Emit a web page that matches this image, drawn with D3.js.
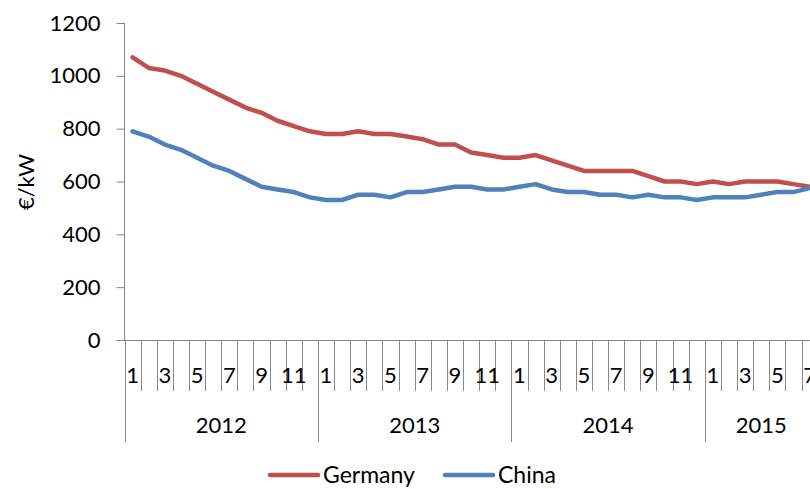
<!DOCTYPE html>
<html>
<head>
<meta charset="utf-8">
<script src="https://cdn.jsdelivr.net/npm/d3@7"></script>
<style>
  body { margin: 0; background: #fff; }
  text { font-family: Lato, "Open Sans", sans-serif; fill: #000; }
</style>
</head>
<body>
<svg id="chart" width="810" height="489"></svg>
<script>
// monthly module prices, Jan 2012 - Jul 2015
var years = ['2012', '2013', '2014', '2015'];
var monthsPerYear = [12, 12, 12, 7];
var yTicks = [0, 200, 400, 600, 800, 1000, 1200];

var germany = [1070, 1030, 1020, 1000, 970, 940, 910, 880, 860, 830, 810, 790,
               780, 780, 790, 780, 780, 770, 760, 740, 740, 710, 700, 690,
               690, 700, 680, 660, 640, 640, 640, 640, 620, 600, 600, 590,
               600, 590, 600, 600, 600, 590, 580];
var china = [790, 770, 740, 720, 690, 660, 640, 610, 580, 570, 560, 540,
             530, 530, 550, 550, 540, 560, 560, 570, 580, 580, 570, 570,
             580, 590, 570, 560, 560, 550, 550, 540, 550, 540, 540, 530,
             540, 540, 540, 550, 560, 560, 575];

// build category list (year, month)
var cats = [];
years.forEach(function(y, yi) {
  for (var m = 1; m <= monthsPerYear[yi]; m++) cats.push({ year: y, month: m });
});

var svg = d3.select('#chart');
var plotLeft = 124.5, plotTop = 23, plotBottom = 340;
var step = 16.12;

var x = d3.scaleBand()
    .domain(d3.range(cats.length))
    .range([plotLeft, plotLeft + step * cats.length])
    .padding(0);
var y = d3.scaleLinear().domain([0, 1200]).range([plotBottom, plotTop]);

var axisColor = '#868686';

// y axis
var yAxis = svg.append('g')
    .attr('transform', 'translate(' + plotLeft + ',0)')
    .call(d3.axisLeft(y).tickValues(yTicks).tickSize(8).tickPadding(16).tickFormat(d3.format('d')));
yAxis.select('.domain').attr('stroke', axisColor).attr('d', 'M0,' + plotTop + 'V' + plotBottom);
yAxis.selectAll('.tick line').attr('stroke', axisColor);
yAxis.selectAll('.tick text').style('font-size', '22px').style('font-family', 'Lato, sans-serif').attr('fill', '#000');

// x axis baseline
svg.append('line')
    .attr('x1', plotLeft - 8).attr('x2', 810)
    .attr('y1', plotBottom + 0.5).attr('y2', plotBottom + 0.5)
    .attr('stroke', axisColor);

// category boundaries
var bounds = d3.range(cats.length + 1);
svg.selectAll('.sep')
  .data(bounds)
  .enter().append('line')
    .attr('class', 'sep')
    .attr('x1', function(i) { return Math.round(plotLeft + i * step) + 0.5; })
    .attr('x2', function(i) { return Math.round(plotLeft + i * step) + 0.5; })
    .attr('y1', plotBottom)
    .attr('y2', function(i) {
      var isYear = i === cats.length || (i < cats.length && cats[i].month === 1);
      return isYear ? 442 : 391;
    })
    .attr('stroke', axisColor);

// month labels (odd months)
svg.selectAll('.mlab')
  .data(cats.map(function(c, i) { return { c: c, i: i }; }).filter(function(d) { return d.c.month % 2 === 1; }))
  .enter().append('text')
    .attr('class', 'mlab')
    .attr('x', function(d) { return x(d.i) + x.bandwidth() / 2; })
    .attr('y', 375)
    .attr('dy', '0.35em')
    .attr('text-anchor', 'middle')
    .style('font-size', '22px')
    .text(function(d) { return d.c.month; });

// year labels
var start = 0;
years.forEach(function(yr, yi) {
  var n = monthsPerYear[yi];
  var cx = x(start) + n * step / 2;
  svg.append('text')
      .attr('x', cx)
      .attr('y', 425)
      .attr('dy', '0.35em')
      .attr('text-anchor', 'middle')
      .style('font-size', '22px')
      .text(yr);
  start += n;
});

// y label
svg.append('text')
    .attr('transform', 'translate(26,182) rotate(-90)')
    .attr('text-anchor', 'middle')
    .attr('dy', '0.35em')
    .style('font-size', '22px')
    .text('€/kW');

// lines
var line = d3.line()
    .x(function(d, i) { return x(i) + x.bandwidth() / 2; })
    .y(function(d) { return y(d); });

var series = [
  { name: 'Germany', values: germany, color: '#C0504D' },
  { name: 'China', values: china, color: '#4F81BD' }
];

svg.selectAll('.series')
  .data(series)
  .enter().append('path')
    .attr('class', 'series')
    .attr('d', function(d) { return line(d.values); })
    .attr('fill', 'none')
    .attr('stroke', function(d) { return d.color; })
    .attr('stroke-width', 4.5)
    .attr('stroke-linejoin', 'round')
    .attr('stroke-linecap', 'round');

// legend
var legendX = [270, 445];
var leg = svg.selectAll('.leg')
  .data(series)
  .enter().append('g')
    .attr('class', 'leg')
    .attr('transform', function(d, i) { return 'translate(' + legendX[i] + ',475)'; });
leg.append('line')
    .attr('x1', 0).attr('x2', 48)
    .attr('stroke', function(d) { return d.color; })
    .attr('stroke-width', 4.5)
    .attr('stroke-linecap', 'round');
leg.append('text')
    .attr('x', 53)
    .attr('dy', '0.35em')
    .style('font-size', '23px')
    .text(function(d) { return d.name; });
</script>
</body>
</html>
